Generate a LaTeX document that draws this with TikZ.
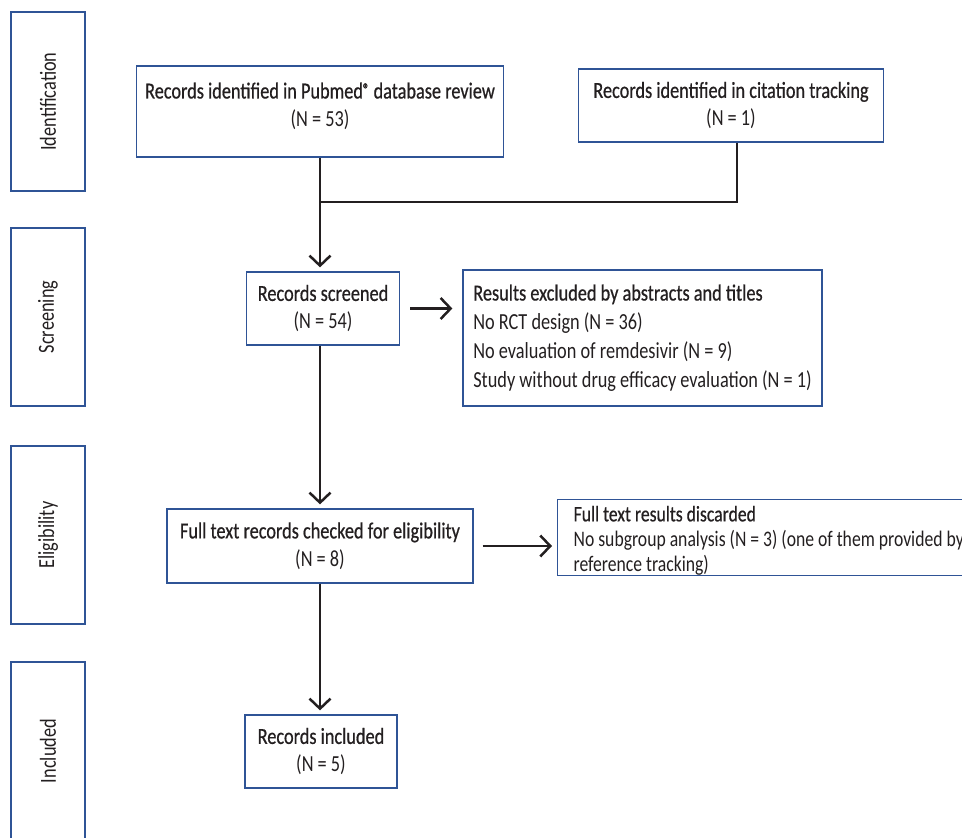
\documentclass[tikz,border=0pt]{standalone}
\usepackage{fontspec}
\setmainfont[FakeStretch=0.795]{Carlito}
\newfontfamily\headfont[FakeStretch=0.795,FakeBold=0.6]{Carlito}
\newcommand{\regmark}{{\fontsize{16}{16}\selectfont\raisebox{4pt}{®}}}
\usetikzlibrary{arrows.meta}
\definecolor{boxblue}{RGB}{47,84,150}
\definecolor{inkgray}{RGB}{35,31,32}
\tikzset{every picture/.style={line width=0.75pt}}

\begin{document}
\begin{tikzpicture}[x=1pt,y=1pt,yscale=-1,
  stagebox/.style={draw=boxblue,line width=1.3pt,minimum width=74,inner sep=0,text=inkgray,font=\fontsize{23}{26}\selectfont},
  flowbox/.style={draw=boxblue,line width=1.3pt,inner sep=0,align=center,text=inkgray,font=\fontsize{23}{28}\selectfont},
  listbox/.style={flowbox,align=left},
  flowline/.style={draw=inkgray,line width=2.5pt},
  flowarrow/.style={flowline,-{Straight Barb[length=10pt,width=21pt]},shorten >=4pt}]
\path[use as bounding box] (0,0) rectangle (962,838);
\clip (0,0) rectangle (962,838);

% Stage boxes
\node[stagebox,minimum height=179] (ident) at (48,101.5) {\rotatebox{90}{Identification}};
\node[stagebox,minimum height=178] (screen) at (48,317) {\rotatebox{90}{Screening}};
\node[stagebox,minimum height=178] (elig) at (48,535) {\rotatebox{90}{Eligibility}};
\node[stagebox,minimum height=178] (incl) at (48,751) {\rotatebox{90}{Included}};

% Text Node
\node[flowbox,minimum width=367,minimum height=91,text depth=14pt] (pubmed) at (320,111.5) {{\headfont Records identified in Pubmed\regmark{} database review}\\(N = 53)};
% Text Node
\node[flowbox,minimum width=305,minimum height=73] (cite) at (731,105.5) {{\headfont Records identified in citation tracking}\\(N = 1)};
% Text Node
\node[flowbox,minimum width=153,minimum height=73] (screened) at (323,308.5) {{\headfont Records screened}\\(N = 54)};
% Text Node
\node[listbox,minimum width=359,minimum height=136,font=\fontsize{23}{29}\selectfont] (excluded) at (642.5,338) {{\headfont Results excluded by abstracts and titles}\\No RCT design (N = 36)\\No evaluation of remdesivir (N = 9)\\Study without drug efficacy evaluation (N = 1)};
% Text Node
\node[flowbox,minimum width=306,minimum height=74] (fulltext) at (320,546) {{\headfont Full text records checked for eligibility}\\(N = 8)};
% Text Node
\node[listbox,anchor=west,inner xsep=16,inner ysep=0pt,minimum height=70,font=\fontsize{22.2}{25}\selectfont] (discarded) at (557,537.5) {\rule{0pt}{21.5pt}{\headfont Full text results discarded}\\No subgroup analysis (N = 3) (one of them provided by\\reference tracking)};
% Text Node
\node[flowbox,minimum width=152,minimum height=73] (included) at (321,751.5) {{\headfont Records included}\\(N = 5)};

% Connectors
\coordinate (join) at (320,202);
\draw[flowline] ([xshift=6pt]cite.south) |- (join);
\draw[flowarrow] (pubmed.south) -- (pubmed.south |- screened.north);
\draw[flowarrow] ([xshift=10pt]screened.east) -- ([xshift=-6pt]excluded.west |- screened.east);
\draw[flowarrow] (pubmed.south |- screened.south) -- (pubmed.south |- fulltext.north);
\draw[flowarrow] ([xshift=9pt]fulltext.east) -- ([xshift=-1pt]discarded.west |- fulltext.east);
\draw[flowarrow] (fulltext.south) -- (fulltext.south |- included.north);

\end{tikzpicture}
\end{document}
